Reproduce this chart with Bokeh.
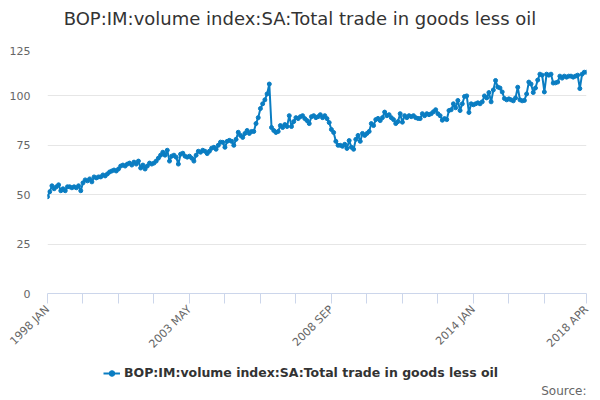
import math
from bokeh.plotting import figure
from bokeh.layouts import column
from bokeh.models import FixedTicker, Legend, LegendItem, Range1d, ColumnDataSource, Label
from bokeh.embed import file_html
from bokeh.resources import INLINE

title_text = "BOP:IM:volume index:SA:Total trade in goods less oil"
series_name = "BOP:IM:volume index:SA:Total trade in goods less oil"
source_text = "Source:"

# monthly values, 1998 JAN .. 2018 APR (one row per year)
index_values = [
    49, 51.5, 54.5, 53, 54, 55, 52, 53, 52, 54, 54, 53.5,              # 1998
    54, 53.5, 54.5, 52, 56, 57.5, 57, 58, 56.5, 59, 58.5, 59,          # 1999
    59, 60, 59.5, 60.5, 61.5, 62, 62.5, 62, 63, 64.5, 65, 64.5,        # 2000
    65.5, 66, 65, 66.5, 65.5, 67, 63.5, 65, 63, 64.5, 66, 65.5,        # 2001
    66, 67, 68.5, 70, 71.5, 70, 72.5, 67, 69.5, 70, 69, 65.5,          # 2002
    70.5, 71, 69.5, 69, 69.5, 68.5, 67, 70, 72, 71.5, 72.5, 72,        # 2003
    70.8, 72, 73.5, 74, 73, 75, 76.6, 76.5, 74, 77, 77.5, 77,          # 2004
    75, 78, 81.6, 80, 79, 81, 82.5, 81, 82, 82, 86, 89,                # 2005
    93.6, 96, 98, 101, 106, 84, 82.5, 81.5, 82, 85, 84, 85.5,          # 2006
    84.5, 90, 84.5, 87, 89, 88.5, 89.5, 90, 88.5, 87.5, 86, 89.5,      # 2007
    90, 89, 89.5, 90.5, 89, 90, 88.5, 86.5, 83, 81.5, 77, 75,          # 2008
    75, 74.5, 75.5, 73.4, 77.4, 74, 73, 78, 80, 77, 81, 80,            # 2009
    81, 82, 86, 85, 88, 88.6, 87.5, 89, 91.8, 90, 90.5, 89,            # 2010
    88, 86, 87, 91, 86.7, 90, 89, 90, 89.5, 90, 89, 88.6,              # 2011
    88.5, 91, 90, 91, 90.5, 91, 92, 93, 91, 90, 87.7, 88.5,            # 2012
    88, 92.6, 93, 96, 94, 97.7, 92.6, 96, 99.7, 100, 91.6, 96,         # 2013
    95.5, 96, 96.5, 96, 97, 100, 99, 101.7, 97, 103, 107.8, 104.5,     # 2014
    104, 102, 98.7, 98, 98.5, 98, 97.5, 99, 104.4, 98, 97.5, 97.7,     # 2015
    101, 107, 106, 101.7, 104, 108, 111, 110.5, 102, 111, 110.5, 111,  # 2016
    106.5, 106.6, 107, 110, 109, 110, 109.5, 110, 110, 109.5, 110, 110.5,  # 2017
    103.7, 111, 112, 112,                                              # 2018
]

tick_positions = [0, 16, 32, 48, 64, 80, 96, 112, 128, 144, 160, 176, 192, 208, 224, 243]
tick_labels = {0: "1998 JAN", 64: "2003 MAY", 128: "2008 SEP", 192: "2014 JAN", 243: "2018 APR"}
y_ticks = [0, 25, 50, 75, 100, 125]

month_index = list(range(len(index_values)))
source = ColumnDataSource(dict(x=month_index, y=index_values))

FONT = "DejaVu Sans"
BLUE = "#0a7dc2"


def blank_figure(height):
    fig = figure(width=600, height=height, output_backend="svg", toolbar_location=None,
                 title=None, x_range=Range1d(47, 586), y_range=Range1d(0, height),
                 x_axis_type=None, y_axis_type=None,
                 min_border_left=47, min_border_right=14, min_border_top=0, min_border_bottom=0)
    fig.outline_line_color = None
    fig.xgrid.grid_line_color = None
    fig.ygrid.grid_line_color = None
    return fig


# header: chart title
h = blank_figure(46)
h.add_layout(Label(x=299.5, y=28, text=title_text, text_align="center", text_baseline="middle",
                   text_font=FONT, text_font_size="18px", text_color="#333333"))

# main chart
p = figure(width=600, height=312, output_backend="svg", toolbar_location=None, title=None,
           x_range=Range1d(0, len(index_values) - 1), y_range=Range1d(0, 125),
           min_border_left=47, min_border_right=14, min_border_top=0, min_border_bottom=65)
p.outline_line_color = None
p.background_fill_color = "white"
p.border_fill_color = "white"

line_r = p.line("x", "y", source=source, line_width=2, line_color=BLUE)
mark_r = p.scatter("x", "y", source=source, size=4, fill_color=BLUE, line_color=BLUE)

xa = p.xaxis[0]
xa.ticker = FixedTicker(ticks=tick_positions)
xa.major_label_overrides = {t: tick_labels.get(t, "") for t in tick_positions}
xa.major_label_orientation = math.pi / 4
xa.axis_line_color = "#ccd6eb"
xa.major_tick_line_color = "#ccd6eb"
xa.major_tick_in = 0
xa.major_tick_out = 10
xa.minor_tick_line_color = None
xa.major_label_text_font = FONT
xa.major_label_text_font_size = "11px"
xa.major_label_text_color = "#666666"
xa.major_label_standoff = 4

ya = p.yaxis[0]
ya.ticker = FixedTicker(ticks=y_ticks)
ya.axis_line_color = None
ya.major_tick_line_color = None
ya.minor_tick_line_color = None
ya.major_tick_out = 0
ya.major_tick_in = 0
ya.major_label_standoff = 17
ya.major_label_text_font = FONT
ya.major_label_text_font_size = "11px"
ya.major_label_text_color = "#666666"

p.xgrid.grid_line_color = None
p.ygrid.grid_line_color = "#e6e6e6"
p.ygrid.grid_line_width = 1

# footer: legend + source credit
f = blank_figure(42)
hidden = ColumnDataSource(dict(x=[-1000], y=[-1000]))
leg_line = f.line("x", "y", source=hidden, line_width=2, line_color=BLUE)
leg_mark = f.scatter("x", "y", source=hidden, size=4, fill_color=BLUE, line_color=BLUE)

legend = Legend(items=[LegendItem(label=series_name, renderers=[leg_line, leg_mark])],
                location=(56, 20), orientation="horizontal")
legend.border_line_color = None
legend.background_fill_alpha = 0
legend.padding = 0
legend.margin = 0
legend.spacing = 0
legend.glyph_width = 17
legend.glyph_height = 14
legend.label_height = 14
legend.label_standoff = 4
legend.label_text_font = FONT
legend.label_text_font_style = "bold"
legend.label_text_font_size = "12.5px"
legend.label_text_color = "#333333"
f.add_layout(legend, "center")

f.add_layout(Label(x=586, y=10, text=source_text, text_align="right", text_baseline="middle",
                   text_font=FONT, text_font_size="12px", text_color="#666666"))

layout = column(h, p, f, spacing=0)
open("out.html", "w").write(file_html(layout, INLINE))
